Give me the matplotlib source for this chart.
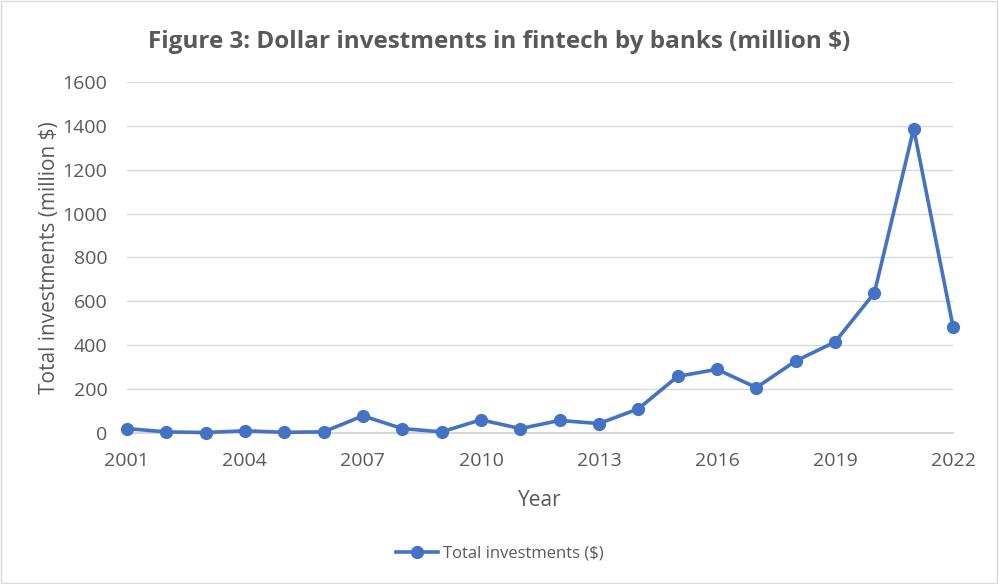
import matplotlib.pyplot as plt
from matplotlib.lines import Line2D

years = list(range(2001, 2023))
investments = [20, 5, 2, 10, 3, 5, 78, 20, 5, 60, 20, 57, 43, 110,
               258, 290, 207, 328, 415, 638, 1387, 484]
xticks = list(range(2001, 2023, 3))
yticks = list(range(0, 1601, 200))

plt.rcParams['font.family'] = ['Open Sans', 'DejaVu Sans']
gray = '#595959'
blue = '#4472C4'

fig = plt.figure(figsize=(9.99, 5.84), dpi=100)
ax = fig.add_axes([0.127, 0.2586, 0.827, 0.601])

ax.plot(years, investments, color=blue, linewidth=2.6, marker='o',
        markersize=8.5, zorder=3, clip_on=False)

ax.set_xlim(2001, 2022)
ax.set_ylim(0, 1600)
ax.set_xticks(xticks)
ax.set_yticks(yticks)
ax.tick_params(axis='both', length=0, labelsize=14, labelcolor=gray)
ax.tick_params(axis='x', pad=14)
ax.tick_params(axis='y', pad=14)
ax.grid(axis='y', color='#d9d9d9', linewidth=1)
for s in ['top', 'right', 'left']:
    ax.spines[s].set_visible(False)
ax.spines['bottom'].set_color('#d0d0d0')
ax.spines['bottom'].set_linewidth(1.2)
ax.set_axisbelow(True)

ax.set_xlabel('Year', fontsize=15, color=gray, labelpad=14)
ax.set_ylabel('Total investments (million $)', fontsize=15, color=gray, labelpad=2)

fig.text(0.5, 0.928, 'Figure 3: Dollar investments in fintech by banks (million $)',
         ha='center', va='center', fontsize=17.5, fontweight='bold', color=gray)

handle = Line2D([], [], color=blue, linewidth=2.6, marker='o', markersize=8.5)
fig.legend([handle], ['Total investments ($)'], loc='center',
           bbox_to_anchor=(0.5, 0.052), frameon=False, fontsize=12,
           labelcolor=gray, handlelength=2.5, handletextpad=0.3)

fig.patches.append(plt.Rectangle((0.001, 0.002), 0.997, 0.996, transform=fig.transFigure,
                                 fill=False, edgecolor='#d9d9d9', linewidth=1))

fig.savefig('out.png', dpi=100)
